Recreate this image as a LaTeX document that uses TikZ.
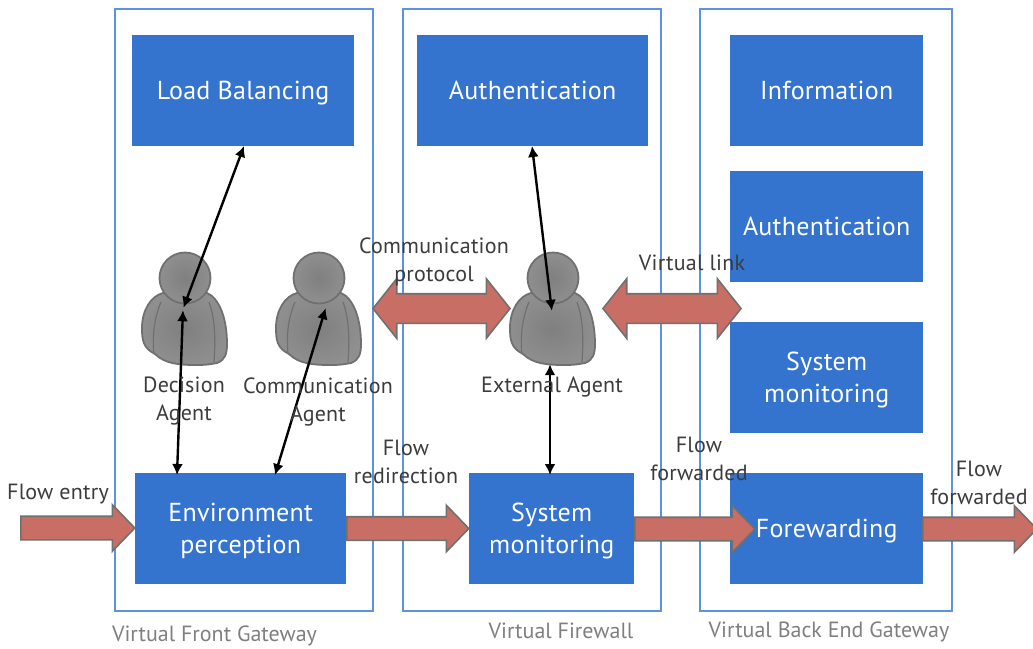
\documentclass[tikz,border=0pt]{standalone}
\usepackage{fontspec}
\setmainfont{PT Sans}
\usetikzlibrary{shapes.arrows,arrows.meta}
\definecolor{boxblue}{HTML}{3474CE}
\definecolor{frameblue}{HTML}{5C93DE}
\definecolor{flowred}{HTML}{C96E65}
\definecolor{flowedge}{HTML}{707070}
\definecolor{labeltxt}{HTML}{3C3C3C}
\definecolor{captxt}{HTML}{7F7F7F}
\newcommand\bst{\rule[-7.1pt]{0pt}{32pt}}
\tikzset{
  x=1pt,y=-1pt,
  framebox/.style={draw=frameblue,line width=2pt,fill=white,outer sep=0pt,inner sep=0pt,anchor=north west},
  bluebox/.style={fill=boxblue,draw=none,text=white,align=center,font=\fontsize{26}{32}\selectfont\addfontfeature{LetterSpace=1},inner sep=0pt,anchor=north west},
  flowarrow/.style={single arrow,draw=flowedge,fill=flowred,line width=1.6pt,inner sep=0pt,inner ysep=11pt,
    single arrow head extend=11.5pt,single arrow tip angle=92,anchor=tail,shape border rotate=0},
  linkarrow/.style={double arrow,draw=flowedge,fill=flowred,line width=1.6pt,inner sep=0pt,inner ysep=14pt,
    double arrow head extend=15pt,double arrow tip angle=103},
  lbl/.style={text=labeltxt,align=center,inner sep=0pt,font=\fontsize{22}{28}\selectfont\addfontfeature{LetterSpace=1}},
  captext/.style={text=captxt,inner sep=0pt,font=\fontsize{22}{24}\selectfont},
  agentlink/.style={draw=black,line width=2.4pt,{Latex[length=11pt,width=11pt]}-{Latex[length=11pt,width=11pt]},shorten >=0pt,shorten <=0pt},
  persona/.pic={
    \path[draw=flowedge,line width=1.8pt,inner color=gray,outer color=gray!88!white]
      (-22,15) .. controls (-34,18) and (-43,32) .. (-43,50)
      .. controls (-43,62) and (-42,70) .. (-30,76)
      .. controls (-20,86) and (-5,87) .. (12,87)
      .. controls (22,87) and (26,86) .. (32,85)
      .. controls (40,82) and (42,76) .. (42,66)
      .. controls (42,40) and (34,20) .. (22,15) -- cycle;
    \draw[flowedge,line width=1.2pt] (-24,24) .. controls (-30,38) and (-33,55) .. (-31,76);
    \draw[flowedge,line width=1.2pt] (24,24) .. controls (29,38) and (31,55) .. (29,84);
    \path[draw=flowedge,line width=1.8pt,inner color=gray,outer color=gray!88!white] (0,0) circle[radius=25.5];
  }
}
\begin{document}
\begin{tikzpicture}
\useasboundingbox (0,0) rectangle (1033,648);
% frames
\node[framebox,minimum width=258pt,minimum height=602pt] (front) at (115,9) {};
\node[framebox,minimum width=258pt,minimum height=602pt] (wall) at (403,9) {};
\node[framebox,minimum width=252pt,minimum height=602pt] (back) at (700,9) {};
% blue boxes
\node[bluebox,minimum width=222pt,minimum height=111pt] (lb) at (132,35) {\bst Load Balancing};
\node[bluebox,minimum width=231pt,minimum height=111pt] (auth) at (417,35) {\bst Authentication};
\node[bluebox,minimum width=193pt,minimum height=111pt] (info) at (730,35) {\bst Information};
\node[bluebox,minimum width=193pt,minimum height=111pt] (auth2) at (730,171) {\bst Authentication};
\node[bluebox,minimum width=193pt,minimum height=111pt] (mon2) at (730,322) {\bst System\\\bst monitoring};
\node[bluebox,minimum width=193pt,minimum height=111pt] (fwd) at (730,473) {\bst Forewarding};
\node[bluebox,minimum width=211pt,minimum height=111pt] (env) at (135,473) {\bst Environment\\\bst perception};
\node[bluebox,minimum width=165pt,minimum height=111pt] (mon) at (469,473) {\bst System\\\bst monitoring};
% agents
\pic at (185,278) {persona};
\pic at (319,278) {persona};
\pic at (553,278) {persona};
\node[inner sep=0pt,minimum size=2pt] (dec) at (183,309) {};
\node[inner sep=0pt,minimum size=2pt] (com) at (326,307) {};
\node[inner sep=0pt,minimum size=2pt] (exttop) at (552,312) {};
\node[inner sep=0pt,minimum size=2pt] (extbot) at (550,363) {};
% flow arrows
\node[flowarrow,minimum height=114pt] (fa1) at (20,528) {};
\node[flowarrow,minimum height=122pt] (fa2) at (346,528.5) {};
\node[flowarrow,minimum height=120pt] (fa3) at (634,529) {};
\node[flowarrow,minimum height=114pt] (fa4) at (922,529) {};
% link arrows
\node[linkarrow,minimum height=137pt] (la1) at (441.5,308.5) {};
\node[linkarrow,minimum height=138pt] (la2) at (672,308.5) {};
% connectors
\coordinate (lbe) at (244,146);
\coordinate (ene) at (177,475);
\coordinate (ens) at (275,475);
\coordinate (aue) at (532,146);
\coordinate (mne) at (550,475);
\draw[agentlink] (lbe) -- (dec);
\draw[agentlink] (dec) -- (ene);
\draw[agentlink] (com) -- (ens);
\draw[agentlink] (aue) -- (exttop);
\draw[agentlink] (extbot) -- (mne);
% labels
\node[lbl] (t1) at (434,262) {Communication\\protocol};
\node[lbl] (t2) at (692,263) {Virtual link};
\node[lbl] (t3) at (184,401.5) {Decision\\Agent};
\node[lbl] (t4) at (318,401.5) {Communication\\Agent};
\node[lbl] (t5) at (552,387) {External Agent};
\node[lbl] (t6) at (58,494) {Flow entry};
\node[lbl] (t7) at (406,462) {Flow\\redirection};
\node[lbl] (t8) at (699,459) {Flow\\forwarded};
\node[lbl] (t9) at (979,483) {Flow\\forwarded};
\node[captext] (c1) at (214.5,636) {Virtual Front Gateway};
\node[captext] (c2) at (561,631) {Virtual Firewall};
\node[captext] (c3) at (829,632) {Virtual Back End Gateway};
\end{tikzpicture}
\end{document}
